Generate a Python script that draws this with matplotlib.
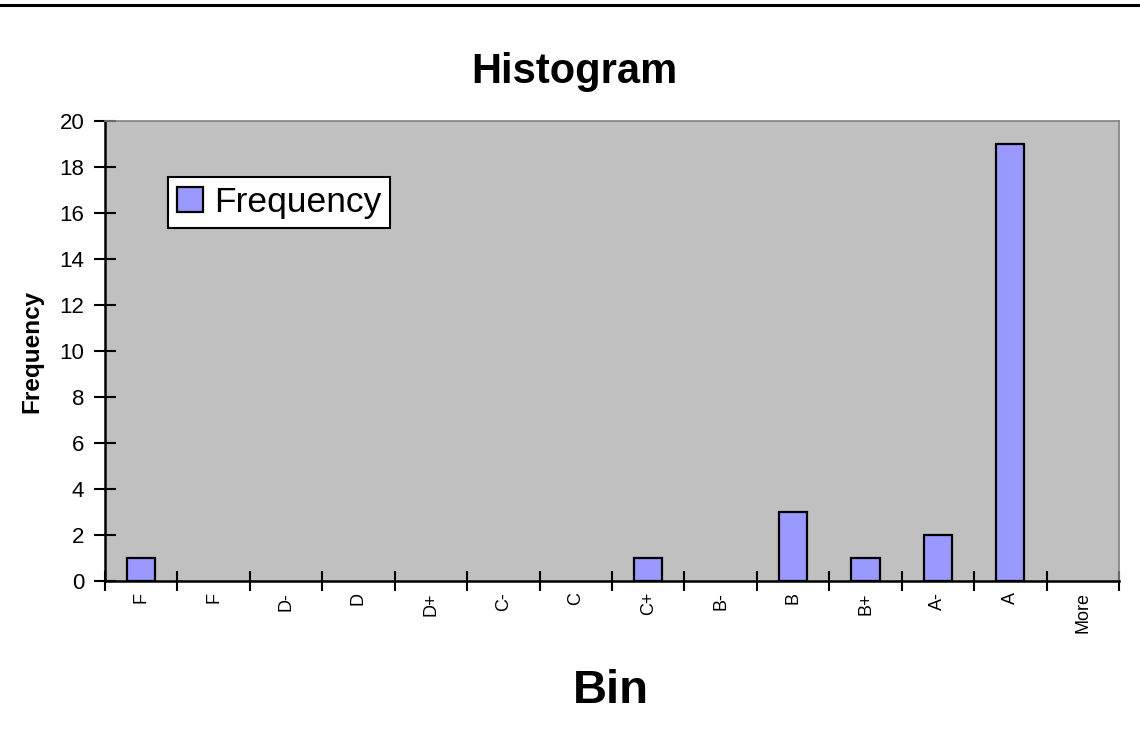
import matplotlib
matplotlib.use("Agg")
import matplotlib.pyplot as plt
from matplotlib.lines import Line2D
import numpy as np

plt.rcParams["font.family"] = ["Liberation Sans", "DejaVu Sans"]

bins = ["F", "F", "D-", "D", "D+", "C-", "C", "C+", "B-", "B", "B+", "A-", "A", "More"]
frequency = [1, 0, 0, 0, 0, 0, 0, 1, 0, 3, 1, 2, 19, 0]
yticks = list(range(0, 21, 2))

W, H = 1140, 741
fig = plt.figure(figsize=(W / 100, H / 100), dpi=100)
ax = fig.add_axes([105 / W, 1 - 581 / H, (1119 - 105) / W, (581 - 121) / H])
ax.set_facecolor("#C0C0C0")

x = np.arange(len(bins))
# Excel draws nothing for empty bins
edges = ["black" if v > 0 else "none" for v in frequency]
ax.bar(x, frequency, width=0.39, color="#9999FF", edgecolor=edges,
       linewidth=1.6, label="Frequency", zorder=3)

ax.set_xlim(-0.5, len(bins) - 0.5)
ax.set_ylim(0, 20)
ax.set_yticks(yticks)
ax.set_xticks(x)
ax.set_xticklabels(bins, rotation=90, fontsize=13)
ax.set_xticks(np.arange(-0.5, len(bins)), minor=True)
ax.tick_params(axis="x", which="major", length=0, pad=8)
ax.tick_params(axis="x", which="minor", direction="inout", length=14, width=1.5)
ax.tick_params(axis="y", direction="inout", length=16, width=1.5, labelsize=16, pad=7)

for s in ["left", "bottom"]:
    ax.spines[s].set_color("black")
    ax.spines[s].set_linewidth(1.8)
for s in ["top", "right"]:
    ax.spines[s].set_color("#808080")
    ax.spines[s].set_linewidth(1.2)

fig.text(574 / W, 1 - 83 / H, "Histogram", ha="center", va="baseline",
         fontsize=30, fontweight="bold")
fig.text(611 / W, 1 - 703 / H, "Bin", ha="center", va="baseline",
         fontsize=34, fontweight="bold")
fig.text(32 / W, 1 - 351 / H, "Frequency", ha="center", va="center",
         rotation=90, fontsize=17.5, fontweight="bold")

leg = ax.legend(loc="upper left", bbox_to_anchor=((168 - 105) / 1014, (581 - 177) / 460),
                fontsize=25.5, fancybox=False, framealpha=1, edgecolor="black",
                handlelength=0.75, handleheight=0.75, handletextpad=0.3,
                borderpad=0.25, borderaxespad=0)
leg.get_frame().set_linewidth(1.5)
leg.legend_handles[0].set_edgecolor("black")

fig.add_artist(Line2D([0, 1], [1 - 5 / H, 1 - 5 / H], color="black", lw=2.2))

fig.savefig("out.png", dpi=100)
